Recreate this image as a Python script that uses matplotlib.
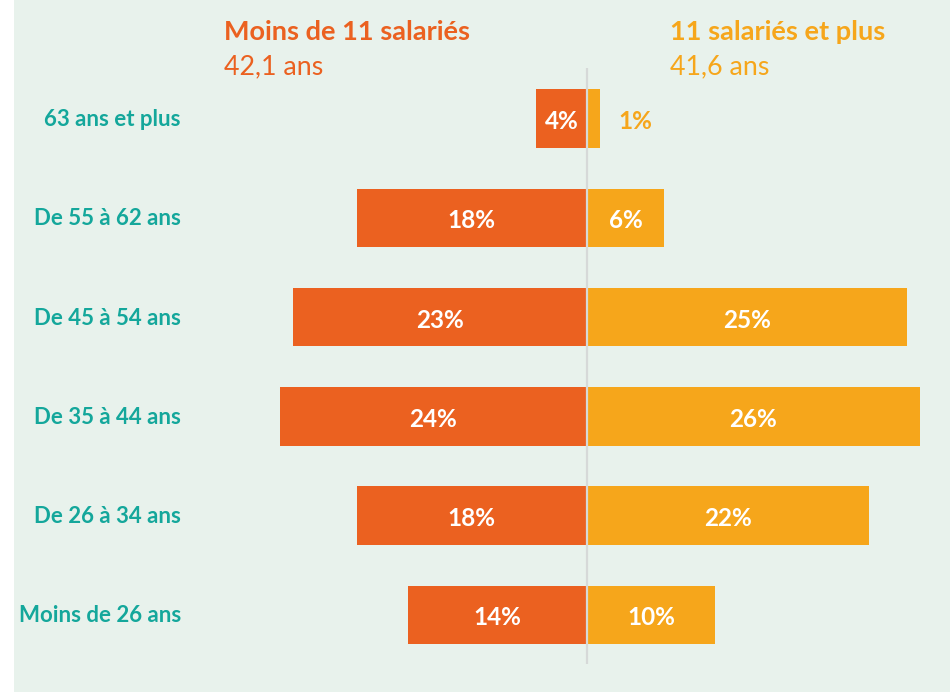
import matplotlib
matplotlib.use("Agg")
import matplotlib.pyplot as plt

plt.rcParams['font.family'] = ['Lato', 'DejaVu Sans']

categories = ["63 ans et plus", "De 55 à 62 ans", "De 45 à 54 ans",
              "De 35 à 44 ans", "De 26 à 34 ans", "Moins de 26 ans"]
small_firms = [4, 18, 23, 24, 18, 14]   # Moins de 11 salariés (%)
large_firms = [1, 6, 25, 26, 22, 10]    # 11 salariés et plus (%)
group_names = ["Moins de 11 salariés", "11 salariés et plus"]
group_ages = ["42,1 ans", "41,6 ans"]

ORANGE = "#EB6120"
YELLOW = "#F6A61B"
TEAL = "#14A79B"
BG = "#E8F2EC"

W, H = 950, 692
fig = plt.figure(figsize=(W / 100, H / 100), dpi=100, facecolor="white")
ax = fig.add_axes([14 / W, 0, (W - 14) / W, 1])
ax.set_facecolor(BG)

px_per_pct = 12.8
x0 = 587
row_px = 99.3
row0 = 118.5
ax.set_xlim((14 - x0) / px_per_pct, (W - x0) / px_per_pct)
ax.set_ylim((H - row0) / row_px, -row0 / row_px)
for s in ax.spines.values():
    s.set_visible(False)
ax.set_xticks([])
ax.set_yticks([])

ys = list(range(len(categories)))
bh = 0.59
ax.barh(ys, [-v for v in small_firms], left=0, height=bh, color=ORANGE, zorder=2)
ax.barh(ys, large_firms, left=0, height=bh, color=YELLOW, zorder=2)
ax.vlines(0, (68 - row0) / row_px, (664 - row0) / row_px, color="#D6D9D8", lw=1.6, zorder=3)

VFS = 17.5
for y, v in zip(ys, small_firms):
    ax.text(-v / 2, y + 0.03, f"{v}%", ha="center", va="center", color="white",
            fontsize=VFS, fontweight="bold", zorder=4)
for y, v in zip(ys, large_firms):
    if v >= 3:
        ax.text(v / 2, y + 0.03, f"{v}%", ha="center", va="center", color="white",
                fontsize=VFS, fontweight="bold", zorder=4)
    else:
        ax.text(v + 2.8, y + 0.03, f"{v}%", ha="center", va="center", color=YELLOW,
                fontsize=VFS, fontweight="bold", zorder=4)

for y, c in zip(ys, categories):
    ax.text((181 - x0) / px_per_pct, y + 0.01, c, ha="right", va="center", color=TEAL,
            fontsize=16, fontweight="bold")

tx = [(224 - x0) / px_per_pct, (670 - x0) / px_per_pct]
for x, name, age, col in zip(tx, group_names, group_ages, [ORANGE, YELLOW]):
    ax.text(x, (32 - row0) / row_px, name, ha="left", va="center", color=col,
            fontsize=19.5, fontweight="bold")
    ax.text(x, (67 - row0) / row_px, age, ha="left", va="center", color=col,
            fontsize=19.3)

fig.savefig("out.png", dpi=100, facecolor="white")
